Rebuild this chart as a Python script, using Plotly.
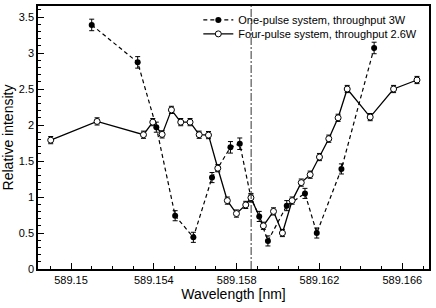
import plotly.graph_objects as go

# One-pulse system (filled markers, dashed line)
one_x = [589.15100, 589.15322, 589.15412, 589.15503, 589.15591, 589.15681, 589.15770,
         589.15815, 589.15869, 589.15909, 589.15951, 589.16042, 589.16130, 589.16187,
         589.16306, 589.16464]
one_y = [3.39, 2.87, 1.97, 0.74, 0.44, 1.27, 1.69, 1.74, 0.99, 0.73, 0.39, 0.88, 1.05,
         0.50, 1.39, 3.07]
one_err = [0.08, 0.08, 0.07, 0.07, 0.07, 0.07, 0.08, 0.08, 0.06, 0.07, 0.07, 0.07, 0.07,
           0.07, 0.07, 0.08]

# Four-pulse system (open markers, solid line)
four_x = [589.14902, 589.15126, 589.15350, 589.15395, 589.15440, 589.15485, 589.15530,
          589.15575, 589.15619, 589.15664, 589.15709, 589.15755, 589.15799, 589.15844,
          589.15869, 589.15929, 589.15978, 589.16021, 589.16068, 589.16112, 589.16155,
          589.16200, 589.16245, 589.16290, 589.16334, 589.16445, 589.16558, 589.16671]
four_y = [1.79, 2.05, 1.865, 2.04, 1.87, 2.21, 2.04, 2.04, 1.865, 1.86, 1.40, 0.95, 0.77,
          0.89, 0.99, 0.60, 0.80, 0.50, 0.95, 1.20, 1.31, 1.555, 1.81, 2.10, 2.50, 2.11,
          2.50, 2.625]
four_err = [0.05] * len(four_x)

line_x = 589.15870

x_ticks = [589.150, 589.154, 589.158, 589.162, 589.166]
x_ticktext = ["589.15", "589.154", "589.158", "589.162", "589.166"]
y_ticks = [0, 0.5, 1, 1.5, 2, 2.5, 3, 3.5]
y_ticktext = ["0", "0.5", "1", "1.5", "2", "2.5", "3", "3.5"]

font = "Liberation Sans, Arial, Helvetica, sans-serif"

fig = go.Figure()
fig.add_trace(go.Scatter(
    x=one_x, y=one_y, mode="lines+markers",
    name="One-pulse system, throughput 3W", legend="legend",
    line=dict(color="black", width=1.2, dash="4px,3px"),
    marker=dict(symbol="circle", size=6, color="black"),
    error_y=dict(type="data", array=one_err, color="black", thickness=1, width=2.5),
))
fig.add_trace(go.Scatter(
    x=four_x, y=four_y, mode="lines+markers",
    name="Four-pulse system, throughput 2.6W", legend="legend2",
    line=dict(color="black", width=1.3),
    marker=dict(symbol="circle", size=6, color="white", line=dict(color="black", width=1)),
    error_y=dict(type="data", array=four_err, color="black", thickness=1, width=2.5),
))

fig.add_vline(x=line_x, line=dict(color="#333333", width=1, dash="8px,2px,2px,2px"))

leg_common = dict(xanchor="left", yanchor="middle", bgcolor="rgba(0,0,0,0)",
                  font=dict(size=11), itemwidth=30)
fig.update_layout(
    width=436, height=308,
    margin=dict(l=38, r=7, t=6, b=39, autoexpand=False),
    paper_bgcolor="white", plot_bgcolor="white",
    font=dict(family=font, size=11, color="black"),
    showlegend=True,
    legend=dict(x=0.41, y=0.947, **leg_common),
    legend2=dict(x=0.41, y=0.894, **leg_common),
)
fig.update_xaxes(
    range=[589.148406, 589.16729], showgrid=False, zeroline=False, automargin=False,
    showline=True, linecolor="black", linewidth=1.5, mirror=True,
    ticks="inside", ticklen=6, tickwidth=1, tickcolor="black",
    tickvals=x_ticks, ticktext=x_ticktext,
    minor=dict(ticks="inside", dtick=0.001, tick0=589.15, ticklen=3, tickcolor="black"),
    title=dict(text="Wavelength [nm]", font=dict(size=14), standoff=2),
    tickfont=dict(size=11),
)
fig.update_yaxes(
    range=[0, 3.653], showgrid=False, zeroline=False, automargin=False,
    showline=True, linecolor="black", linewidth=1.5, mirror=True,
    ticks="inside", ticklen=6, tickwidth=1, tickcolor="black",
    tickvals=y_ticks, ticktext=y_ticktext,
    minor=dict(ticks="inside", dtick=0.1, tick0=0, ticklen=3, tickcolor="black"),
    title=dict(text="Relative intensity", font=dict(size=14), standoff=2),
    tickfont=dict(size=11),
)

fig.write_html("out.html", config={"displayModeBar": False},
               post_script="document.body.style.margin='0';")
